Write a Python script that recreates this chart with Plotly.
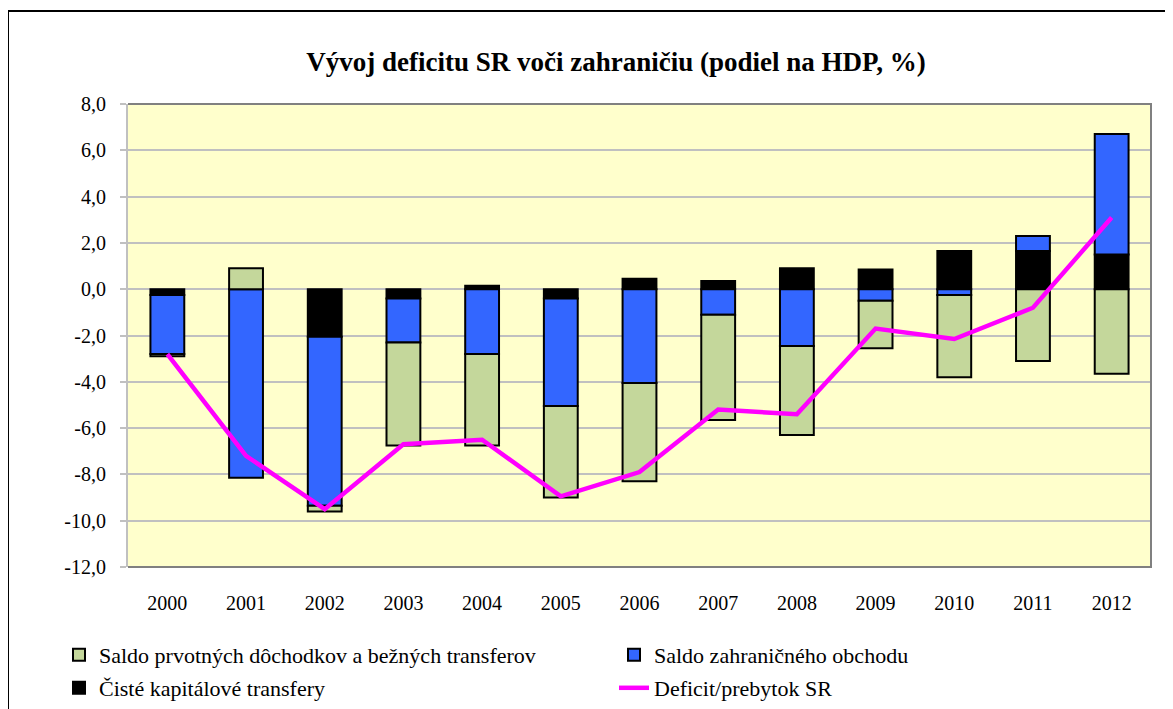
import plotly.graph_objects as go

years = ["2000", "2001", "2002", "2003", "2004", "2005", "2006",
         "2007", "2008", "2009", "2010", "2011", "2012"]

saldo_dochodkov = [-0.1, 0.9, -0.25, -4.45, -3.95, -3.95, -4.25,
                   -4.55, -3.85, -2.05, -3.55, -3.1, -3.65]
saldo_obchodu = [-2.55, -8.15, -7.3, -1.9, -2.8, -4.65, -4.05,
                 -1.1, -2.45, -0.5, -0.25, 0.65, 5.2]
kapitalove = [-0.25, 0.0, -2.05, -0.4, 0.15, -0.4, 0.45,
              0.35, 0.9, 0.85, 1.65, 1.65, 1.5]
deficit = [-2.8, -7.2, -9.5, -6.7, -6.5, -8.95, -7.9,
           -5.2, -5.4, -1.7, -2.15, -0.8, 3.1]

y_ticks = [-12, -10, -8, -6, -4, -2, 0, 2, 4, 6, 8]

names = ["Saldo prvotných dôchodkov a bežných transferov",
         "Saldo zahraničného obchodu",
         "Čisté kapitálové transfery",
         "Deficit/prebytok SR"]

FONT = "Liberation Serif"
GREEN = "#C4D79B"
BLUE = "#3366FF"
BLACK = "#000000"
MAGENTA = "#FF00FF"

# the page body has an 8px margin; figure is sized to fit the window
OFF = 8
W, H = 1173 - OFF, 709 - OFF

fig = go.Figure()
fig.add_trace(go.Bar(x=years, y=kapitalove, name=names[2], marker_color=BLACK,
                     marker_line=dict(color="black", width=2), legend="legend3"))
fig.add_trace(go.Bar(x=years, y=saldo_obchodu, name=names[1], marker_color=BLUE,
                     marker_line=dict(color="black", width=2), legend="legend2"))
fig.add_trace(go.Bar(x=years, y=saldo_dochodkov, name=names[0], marker_color=GREEN,
                     marker_line=dict(color="black", width=2), legend="legend"))
fig.add_trace(go.Scatter(x=years, y=deficit, name=names[3], mode="lines",
                         line=dict(color=MAGENTA, width=4.5), legend="legend4"))

ymin, ymax = y_ticks[0], y_ticks[-1]


def cx(px):
    return (px - OFF) / W


def cy(py):
    return 1 - (py - OFF) / H


def leg(text_x, row_y):
    return dict(orientation="h", xref="container", yref="container",
                x=cx(text_x - 44), y=cy(row_y),
                xanchor="left", yanchor="middle", visible=True,
                font=dict(family=FONT, size=22, color="black"),
                bgcolor="rgba(0,0,0,0)")


plot_w = 1151 - 128
plot_h = 567 - 104

fig.update_layout(
    width=W, height=H,
    margin=dict(l=128 - OFF, r=W - (1151 - OFF), t=104 - OFF, b=H - (567 - OFF),
                autoexpand=False),
    showlegend=True,
    barmode="relative",
    bargap=0.57,
    separators=", ",
    paper_bgcolor="white",
    plot_bgcolor="#FFFFCC",
    font=dict(family=FONT, size=20, color="black"),
    title=dict(text="<b>Vývoj deficitu SR voči zahraničiu (podiel na HDP, %)</b>",
               x=cx(616), xref="container", xanchor="center",
               y=cy(62), yref="container", yanchor="middle",
               font=dict(family=FONT, size=27, color="black")),
    xaxis=dict(type="category", showgrid=False, showline=False, ticks="",
               ticklabelstandoff=22, tickfont=dict(size=20)),
    xaxis2=dict(overlaying="x", anchor="free", position=(0 - ymin) / (ymax - ymin),
                range=[-0.5, len(years) - 0.5], showline=True, linecolor="#C0C0C0",
                linewidth=2, ticks="outside", ticklen=5, tickwidth=2,
                tickcolor="#C0C0C0", tickvals=[i + 0.5 for i in range(len(years) - 1)],
                showticklabels=False, showgrid=False, zeroline=False),
    yaxis=dict(range=[ymin, ymax], tickmode="array", tickvals=y_ticks,
               ticktext=[f"{v:.1f}".replace(".", ",") for v in y_ticks],
               showgrid=True,
               gridcolor="#C0C0C0", gridwidth=2, zeroline=False, showline=True,
               linecolor="#C0C0C0", linewidth=2, ticks="outside", ticklen=6,
               tickwidth=2, tickcolor="#C0C0C0", ticklabelstandoff=10,
               tickfont=dict(size=20)),
    legend=leg(103, 655),
    legend2=leg(658, 655),
    legend3=leg(103, 688),
    legend4=leg(658, 688),
    shapes=[
        dict(type="path", xref="paper", yref="paper", path="M0,1 L1,1 L1,0 L0,0",
             line=dict(color="#808080", width=2), layer="above"),
        dict(type="rect", xref="paper", yref="paper",
             x0=(8 - 128) / plot_w, x1=1.05, y0=-0.33, y1=(567 - 11) / plot_h,
             line=dict(color="black", width=2), layer="above"),
    ],
)

fig.write_html("out.html")
